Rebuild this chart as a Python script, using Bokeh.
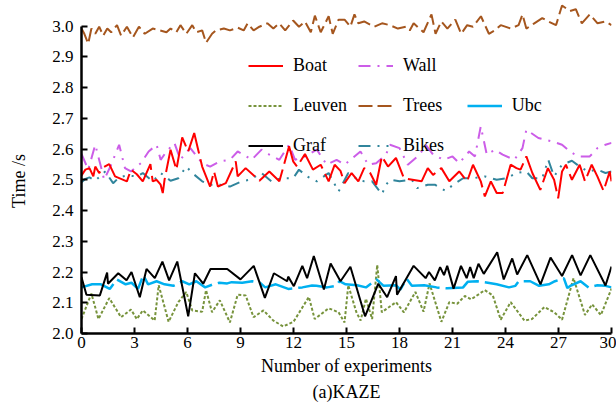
from bokeh.plotting import figure
from bokeh.models import Range1d, Legend, LegendItem, Title, FixedTicker, PrintfTickFormatter
from bokeh.embed import file_html
from bokeh.resources import INLINE

x_ticks = [0, 3, 6, 9, 12, 15, 18, 21, 24, 27, 30]
y_ticks = [2.0, 2.1, 2.2, 2.3, 2.4, 2.5, 2.6, 2.7, 2.8, 2.9, 3.0]

boat_x = [0, 0.22, 0.45, 0.67, 0.78, 1.0, 1.23, 1.57, 1.9, 2.57,
          2.8, 3.13, 3.47, 3.9, 4.03, 4.25, 4.48, 4.6, 4.7, 5.04,
          5.37, 5.7, 6.04, 6.38, 6.83, 7.28, 7.5, 7.72, 8.17, 8.73,
          8.84, 9.29, 10.07, 10.63, 11.2, 11.75, 11.98, 12.2, 12.65, 13.1,
          13.54, 13.99, 14.33, 14.66, 14.89, 15.29, 15.67, 16.0, 16.34, 16.68,
          17.0, 17.35, 17.8, 18.25, 19.25, 19.6, 19.9, 20.37, 20.82, 21.38,
          21.83, 22.16, 22.6, 22.83, 23.17, 23.5, 23.84, 24.29, 24.62, 24.85,
          25.18, 25.52, 25.97, 26.4, 26.75, 26.98, 27.2, 27.42, 27.76, 28.2,
          28.5, 28.88, 29.2, 29.55, 29.9, 30.0]
boat_y = [2.514, 2.533, 2.538, 2.511, 2.543, 2.522, 2.54, 2.551, 2.511, 2.495,
          2.533, 2.518, 2.495, 2.551, 2.495, 2.5, 2.484, 2.457, 2.5, 2.598,
          2.533, 2.638, 2.592, 2.652, 2.543, 2.478, 2.527, 2.478, 2.489, 2.56,
          2.511, 2.538, 2.497, 2.527, 2.495, 2.609, 2.56, 2.543, 2.584, 2.533,
          2.549, 2.495, 2.549, 2.529, 2.489, 2.522, 2.495, 2.538, 2.522, 2.484,
          2.576, 2.543, 2.571, 2.505, 2.495, 2.538, 2.516, 2.538, 2.495, 2.527,
          2.495, 2.549, 2.495, 2.446, 2.495, 2.457, 2.457, 2.549, 2.538, 2.533,
          2.576, 2.522, 2.467, 2.538, 2.5, 2.44, 2.527, 2.549, 2.5, 2.549,
          2.495, 2.549, 2.511, 2.464, 2.527, 2.495]

wall_x = [0, 0.38, 0.78, 1.12, 1.28, 1.68, 2.13, 2.46, 2.8, 3.36,
          3.8, 4.25, 4.48, 4.81, 5.26, 5.6, 5.82, 6.16, 6.83, 7.28,
          7.83, 8.4, 8.84, 9.18, 9.63, 10.19, 10.63, 11.2, 11.75, 12.09,
          12.65, 13.32, 13.88, 14.44, 14.89, 15.79, 16.23, 16.68, 17.24, 17.46,
          18.0, 18.47, 19.14, 19.48, 19.9, 20.5, 21.0, 21.38, 21.94, 22.27,
          22.6, 22.94, 23.4, 23.84, 24.5, 24.96, 25.18, 25.86, 26.64, 27.2,
          27.65, 28.1, 28.77, 29.2, 29.66, 30.0]
wall_y = [2.584, 2.533, 2.614, 2.538, 2.5, 2.549, 2.614, 2.538, 2.527, 2.554,
          2.592, 2.614, 2.565, 2.592, 2.62, 2.565, 2.582, 2.603, 2.554, 2.543,
          2.56, 2.565, 2.592, 2.582, 2.565, 2.598, 2.582, 2.565, 2.614, 2.565,
          2.576, 2.598, 2.549, 2.565, 2.549, 2.592, 2.549, 2.554, 2.582, 2.614,
          2.603, 2.549, 2.582, 2.614, 2.582, 2.565, 2.576, 2.554, 2.592, 2.576,
          2.674, 2.582, 2.598, 2.582, 2.565, 2.603, 2.663, 2.636, 2.625, 2.614,
          2.592, 2.576, 2.576, 2.603, 2.614, 2.62]

leuven_x = [0, 0.56, 0.96, 1.57, 2.24, 2.8, 3.13, 3.47, 4.14, 4.37,
            4.93, 5.48, 5.93, 6.27, 6.83, 7.05, 7.39, 7.83, 8.4, 8.84,
            9.29, 9.74, 10.3, 10.86, 11.42, 12.0, 12.87, 13.2, 13.99, 14.55,
            14.89, 15.1, 15.56, 15.8, 16.1, 16.45, 16.74, 17.0, 17.8, 18.25,
            18.9, 19.36, 19.7, 20.37, 20.82, 21.27, 21.7, 22.05, 22.83, 23.28,
            23.73, 24.29, 25.07, 25.5, 26.2, 26.76, 27.2, 27.85, 28.5, 28.9,
            29.4, 30.0]
leuven_y = [2.047, 2.13, 2.047, 2.115, 2.053, 2.078, 2.047, 2.075, 2.042, 2.157,
            2.038, 2.102, 2.135, 2.075, 2.071, 2.141, 2.069, 2.108, 2.036, 2.126,
            2.124, 2.053, 2.075, 2.042, 2.023, 2.038, 2.119, 2.047, 2.082, 2.069,
            2.036, 2.157, 2.069, 2.042, 2.113, 2.047, 2.223, 2.069, 2.102, 2.069,
            2.135, 2.071, 2.163, 2.038, 2.102, 2.097, 2.122, 2.111, 2.141, 2.124,
            2.045, 2.102, 2.042, 2.047, 2.086, 2.069, 2.045, 2.18, 2.06, 2.095,
            2.06, 2.146]

trees_x = [0, 0.16, 0.38, 0.56, 0.78, 1.0, 1.23, 1.46, 1.68, 2.01,
           2.24, 2.57, 2.91, 3.25, 3.58, 4.03, 4.81, 5.04, 5.37, 5.6,
           5.93, 6.27, 6.49, 6.83, 7.05, 7.39, 7.61, 8.06, 8.4, 8.84,
           9.18, 9.4, 9.74, 10.07, 10.52, 10.86, 11.19, 11.53, 11.98, 12.31,
           12.65, 12.98, 13.21, 13.54, 13.99, 14.22, 14.55, 14.89, 15.22, 15.45,
           15.67, 16.0, 16.57, 17.01, 17.46, 17.91, 18.36, 18.58, 18.8, 19.36,
           19.81, 20.04, 20.37, 20.71, 21.16, 21.49, 21.83, 22.16, 22.61, 23.06,
           23.39, 23.73, 24.29, 24.74, 24.96, 25.18, 25.63, 26.08, 26.42, 26.86,
           27.2, 27.65, 27.98, 28.32, 28.77, 29.21, 29.66, 30.0]
trees_y = [2.992, 2.975, 2.943, 2.992, 2.975, 2.998, 2.969, 2.992, 2.98, 3.003,
           2.969, 2.998, 2.963, 2.998, 2.975, 2.992, 2.98, 2.992, 2.98, 3.003,
           2.975, 3.003, 2.98, 2.986, 2.946, 2.975, 2.986, 2.992, 2.986, 2.995,
           2.986, 3.009, 2.986, 2.998, 3.009, 2.992, 3.009, 2.986, 3.018, 2.998,
           3.015, 2.98, 3.034, 2.98, 3.032, 2.975, 3.021, 3.021, 2.998, 3.038,
           3.009, 3.015, 2.998, 3.009, 3.003, 2.992, 2.998, 2.986, 3.009, 2.98,
           3.038, 2.975, 3.015, 2.992, 3.021, 2.975, 3.003, 2.998, 3.032, 2.975,
           2.986, 3.003, 2.992, 3.003, 3.038, 2.992, 3.009, 3.026, 3.015, 3.003,
           3.067, 3.049, 3.055, 3.009, 3.038, 3.009, 3.015, 3.003]

ubc_x = [0, 0.6, 1.1, 1.6, 2.0, 2.5, 2.83, 3.2, 3.5, 3.77,
         4.25, 4.7, 5.2, 5.7, 6.1, 6.5, 7.0, 7.45, 7.8, 8.25,
         8.5, 9.1, 9.66, 10.1, 10.4, 11.0, 11.7, 12.5, 13.05, 13.3,
         13.9, 14.4, 14.6, 14.95, 15.6, 16.1, 16.7, 17.1, 17.8, 18.05,
         18.4, 18.7, 19.4, 20.1, 20.7, 21.6, 21.86, 22.4, 23.0, 23.5,
         24.2, 24.56, 24.75, 25.4, 25.9, 26.45, 26.8, 27.3, 27.5, 27.7,
         28.25, 28.7, 29.2, 29.66, 30.0]
ubc_y = [2.15, 2.16, 2.16, 2.145, 2.176, 2.16, 2.165, 2.145, 2.19, 2.16,
         2.17, 2.16, 2.155, 2.17, 2.16, 2.17, 2.15, 2.16, 2.165, 2.163,
         2.167, 2.165, 2.17, 2.165, 2.15, 2.16, 2.145, 2.15, 2.156, 2.155,
         2.15, 2.155, 2.17, 2.16, 2.157, 2.15, 2.176, 2.155, 2.157, 2.143,
         2.178, 2.155, 2.157, 2.15, 2.147, 2.15, 2.168, 2.17, 2.165, 2.16,
         2.15, 2.155, 2.17, 2.17, 2.155, 2.16, 2.17, 2.18, 2.148, 2.156,
         2.17, 2.15, 2.157, 2.155, 2.15]

graf_x = [0, 0.28, 1.04, 1.45, 1.5, 2.08, 2.55, 2.83, 3.3, 3.68,
          4.15, 4.58, 4.96, 5.42, 6.04, 6.42, 6.89, 7.3, 8.25, 9.0,
          9.75, 10.38, 10.89, 11.64, 11.7, 12.02, 12.5, 12.77, 13.15, 13.72,
          14.1, 14.66, 15.22, 16.05, 16.8, 17.3, 17.8, 17.86, 18.8, 19.48,
          19.67, 20.0, 20.3, 20.52, 20.7, 21.06, 21.48, 21.8, 22.0, 22.2,
          22.47, 22.77, 23.53, 23.9, 24.38, 24.66, 25.23, 25.98, 26.55, 27.2,
          27.77, 28.25, 28.8, 29.66, 30.0]
graf_y = [2.183, 2.126, 2.124, 2.198, 2.162, 2.196, 2.173, 2.2, 2.118, 2.21,
          2.18, 2.234, 2.173, 2.234, 2.056, 2.196, 2.162, 2.21, 2.21, 2.176,
          2.22, 2.116, 2.196, 2.17, 2.185, 2.154, 2.22, 2.18, 2.252, 2.143,
          2.228, 2.17, 2.217, 2.056, 2.162, 2.118, 2.187, 2.126, 2.22, 2.18,
          2.2, 2.173, 2.216, 2.19, 2.22, 2.146, 2.22, 2.18, 2.216, 2.18,
          2.227, 2.194, 2.264, 2.176, 2.244, 2.192, 2.255, 2.16, 2.247, 2.187,
          2.255, 2.189, 2.255, 2.156, 2.218]

bikes_x = [0, 0.22, 0.45, 0.78, 1.34, 1.79, 2.13, 2.57, 3.13, 3.47,
           4.03, 4.48, 5.04, 5.48, 5.93, 6.27, 6.83, 7.28, 7.83, 8.4,
           9.07, 9.51, 10.19, 10.75, 11.3, 11.98, 12.31, 12.76, 13.32, 13.99,
           14.55, 15.1, 15.67, 16.0, 16.45, 17.0, 17.24, 17.46, 18.0, 18.7,
           19.0, 19.6, 20.0, 20.6, 21.16, 21.6, 22.16, 22.83, 23.5, 24.06,
           24.62, 25.18, 25.52, 26.08, 26.42, 26.75, 27.2, 27.76, 28.2, 28.66,
           29.2, 29.66, 30.0]
bikes_y = [2.492, 2.503, 2.508, 2.497, 2.527, 2.489, 2.508, 2.514, 2.511, 2.522,
           2.495, 2.522, 2.497, 2.505, 2.543, 2.522, 2.495, 2.484, 2.484, 2.478,
           2.495, 2.5, 2.522, 2.495, 2.505, 2.505, 2.533, 2.511, 2.495, 2.522,
           2.462, 2.522, 2.5, 2.495, 2.495, 2.453, 2.484, 2.5, 2.495, 2.5,
           2.473, 2.484, 2.484, 2.464, 2.489, 2.505, 2.505, 2.511, 2.5, 2.505,
           2.522, 2.527, 2.505, 2.505, 2.565, 2.511, 2.549, 2.562, 2.543, 2.527,
           2.533, 2.522, 2.527]

FONT = "Liberation Serif"

p = figure(width=616, height=407, output_backend="svg", toolbar_location=None,
           x_range=Range1d(0, 30), y_range=Range1d(2.0, 3.08),
           min_border_left=81, min_border_right=5, min_border_top=1,
           min_border_bottom=74)
p.background_fill_color = "white"
p.border_fill_color = "white"
p.outline_line_color = None
p.xgrid.visible = False
p.ygrid.visible = False

r_trees = p.line(trees_x, trees_y, line_color="#A5561E", line_width=2, line_dash="14 5")
r_wall = p.line(wall_x, wall_y, line_color="#CC5DE8", line_width=2, line_dash="12 7 2 7")
r_bikes = p.line(bikes_x, bikes_y, line_color="#31859C", line_width=2, line_dash="12 7 2 7 2 7")
r_boat = p.line(boat_x, boat_y, line_color="#FF0000", line_width=2, line_dash="40 6")
r_leuven = p.line(leuven_x, leuven_y, line_color="#77933C", line_width=2, line_dash="3 2")
r_ubc = p.line(ubc_x, ubc_y, line_color="#00B0F0", line_width=2.5, line_dash="36 6")
r_graf = p.line(graf_x, graf_y, line_color="black", line_width=2)
r_blank = p.line([], [], line_alpha=0)

for ax in (p.xaxis[0], p.yaxis[0]):
    ax.axis_line_width = 2.5
    ax.axis_line_color = "black"
    ax.major_tick_line_width = 2
    ax.major_tick_line_color = "black"
    ax.major_tick_in = 6
    ax.major_tick_out = 0
    ax.minor_tick_in = 0
    ax.minor_tick_out = 0
    ax.major_label_text_font = FONT
    ax.major_label_text_font_size = "17px"
    ax.major_label_text_color = "black"
    ax.axis_label_text_font = FONT
    ax.axis_label_text_font_size = "18px"
    ax.axis_label_text_font_style = "normal"
    ax.axis_label_text_color = "black"

p.xaxis.ticker = FixedTicker(ticks=x_ticks)
p.xaxis.formatter = PrintfTickFormatter(format="%d")
p.xaxis.axis_label = "Number of experiments"
p.xaxis.major_label_standoff = 3
p.xaxis.axis_label_standoff = 5

p.yaxis.ticker = FixedTicker(ticks=y_ticks)
p.yaxis.formatter = PrintfTickFormatter(format="%.1f")
p.yaxis.bounds = (2.0, 3.0)
p.yaxis.axis_label = "Time /s      "
p.yaxis.major_label_standoff = 8
p.yaxis.axis_label_standoff = 20

title = Title(text="(a)KAZE", align="center", text_font=FONT,
              text_font_size="18px", text_font_style="normal", text_color="black",
              standoff=3, offset=0)
p.add_layout(title, "below")

legend = Legend(items=[
    LegendItem(label="Boat", renderers=[r_boat]),
    LegendItem(label="Leuven", renderers=[r_leuven]),
    LegendItem(label="Graf", renderers=[r_graf]),
    LegendItem(label="Wall", renderers=[r_wall]),
    LegendItem(label="Trees   ", renderers=[r_trees]),
    LegendItem(label="Bikes", renderers=[r_bikes]),
    LegendItem(label=" ", renderers=[r_blank]),
    LegendItem(label="Ubc", renderers=[r_ubc]),
], orientation="vertical", nrows=3,
   label_text_font=FONT, label_text_font_size="18px", label_text_color="black")
legend.location = (167, 173)
legend.background_fill_alpha = 0
legend.border_line_color = None
legend.padding = 0
legend.margin = 0
legend.glyph_width = 35
legend.glyph_height = 29
legend.label_height = 29
legend.label_standoff = 10
legend.spacing = 11
p.add_layout(legend)

open("out.html", "w").write(file_html(p, INLINE))
